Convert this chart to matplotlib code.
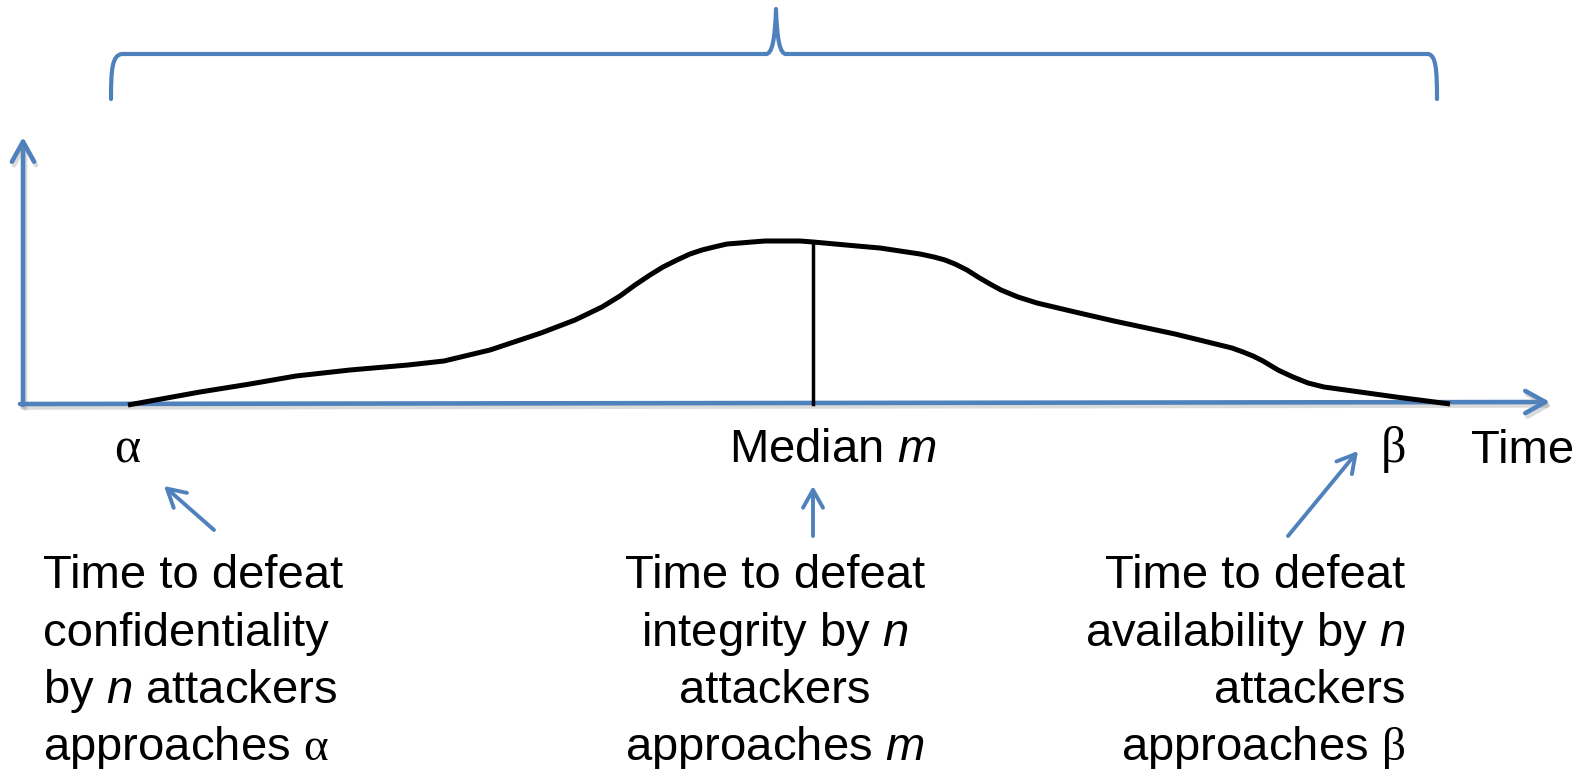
import matplotlib
matplotlib.use("Agg")
import matplotlib.pyplot as plt
from matplotlib.patches import FancyArrowPatch, PathPatch
from matplotlib.path import Path
import matplotlib.patheffects as pe

plt.rcParams['font.family'] = ['Liberation Sans', 'DejaVu Sans']
plt.rcParams['mathtext.fontset'] = 'custom'
plt.rcParams['mathtext.rm'] = 'Liberation Serif'
plt.rcParams['mathtext.it'] = 'Liberation Sans:italic'

BLUE = '#4F81BD'

# distribution curve (pixel units, y grows downward)
curve_time = [128, 200, 250, 296, 350, 408, 444, 490, 541, 575, 602, 620, 635, 650, 663,
              677, 690, 702, 714, 727, 740, 752, 765, 780, 800, 813, 835, 857, 880, 900,
              920, 934, 945, 955, 967, 978, 990, 1001, 1018, 1037, 1075, 1114, 1175,
              1232, 1243, 1253, 1263, 1278, 1293, 1308, 1324, 1360, 1396, 1450]
curve_density = [405, 392, 384, 376, 370, 365, 361, 350, 333, 320, 307, 296, 285, 275, 267,
                 260, 254, 250, 247, 244, 243, 242, 241, 241, 241, 242, 244, 246, 248, 251,
                 254, 257, 260, 264, 270, 277, 284, 290, 297, 303, 312, 321, 334,
                 348, 352, 356, 361, 370, 377, 383, 387, 392, 397, 404]
median_time = 813
median_density = 242

alpha_label = r'$\mathrm{\alpha}$'
beta_label = r'$\mathrm{\beta}$'
left_lines = ['Time to defeat', 'confidentiality', r'by $\mathit{n}$ attackers',
              r'approaches $\mathrm{\alpha}$']
mid_lines = ['Time to defeat', r'integrity by $\mathit{n}$', 'attackers',
             r'approaches $\mathit{m}$']
right_lines = ['Time to defeat', r'availability by $\mathit{n}$', 'attackers',
               r'approaches $\mathrm{\beta}$']

fig = plt.figure(figsize=(15.85, 7.69), dpi=100)
ax = fig.add_axes([0, 0, 1, 1])
ax.set_xlim(0, 1585)
ax.set_ylim(769, 0)
ax.axis('off')

shadow = [pe.SimpleLineShadow(offset=(1.5, -2.5), shadow_color='#888888', alpha=0.3),
          pe.Normal()]


def arrow(p0, p1, lw=3.3, hl=0.9, hw=0.5, effects=None):
    a = FancyArrowPatch(p0, p1, arrowstyle=f'->,head_length={hl},head_width={hw}',
                        mutation_scale=16, lw=lw, color=BLUE, shrinkA=0, shrinkB=0,
                        capstyle='round', joinstyle='round')
    if effects:
        a.set_path_effects(effects)
    ax.add_patch(a)


# axes
arrow((23, 405), (23, 137), effects=shadow)
arrow((20, 404), (1550, 402), effects=shadow)

# curve and median
ax.plot(curve_time, curve_density, color='black', lw=3.6, solid_joinstyle='round',
        solid_capstyle='butt', zorder=3)
ax.plot([median_time, median_time], [404, median_density], color='black', lw=2.5, zorder=3)

# brace over the top
verts = [(111, 99), (111, 70), (112, 55), (122, 54),
         (766, 54), (772, 54), (775, 40), (776, 9),
         (777, 40), (780, 54), (786, 54),
         (1428, 54), (1436, 55), (1437, 70), (1437, 99)]
codes = [Path.MOVETO, Path.CURVE4, Path.CURVE4, Path.CURVE4,
         Path.LINETO, Path.CURVE4, Path.CURVE4, Path.CURVE4,
         Path.CURVE4, Path.CURVE4, Path.CURVE4,
         Path.LINETO, Path.CURVE4, Path.CURVE4, Path.CURVE4]
ax.add_patch(PathPatch(Path(verts, codes), fill=False, edgecolor=BLUE, lw=3.0,
                       capstyle='round', joinstyle='round'))

# labels under axis
fs = 34
ax.text(128, 462, alpha_label, fontsize=fs + 2, ha='center', va='baseline')
ax.text(833, 462, r'Median $\mathit{m}$', fontsize=fs, ha='center', va='baseline')
ax.text(1393, 462, beta_label, fontsize=fs + 2, ha='center', va='baseline')
ax.text(1471, 463, 'Time', fontsize=fs, ha='left', va='baseline')

# pointer arrows
arrow((214, 530), (164, 486), lw=2.8, hl=0.8, hw=0.45)
arrow((813, 536), (813, 486), lw=2.8, hl=0.8, hw=0.45)
arrow((1288, 536), (1358, 451), lw=2.8, hl=0.8, hw=0.45)

# description blocks
baselines = [588, 646, 703, 760]
for y, s in zip(baselines, left_lines):
    ax.text(43, y, s, fontsize=fs, ha='left', va='baseline')
for y, s in zip(baselines, mid_lines):
    ax.text(775, y, s, fontsize=fs, ha='center', va='baseline')
for y, s in zip(baselines, right_lines):
    ax.text(1405, y, s, fontsize=fs, ha='right', va='baseline')

fig.savefig('out.png', dpi=100)
